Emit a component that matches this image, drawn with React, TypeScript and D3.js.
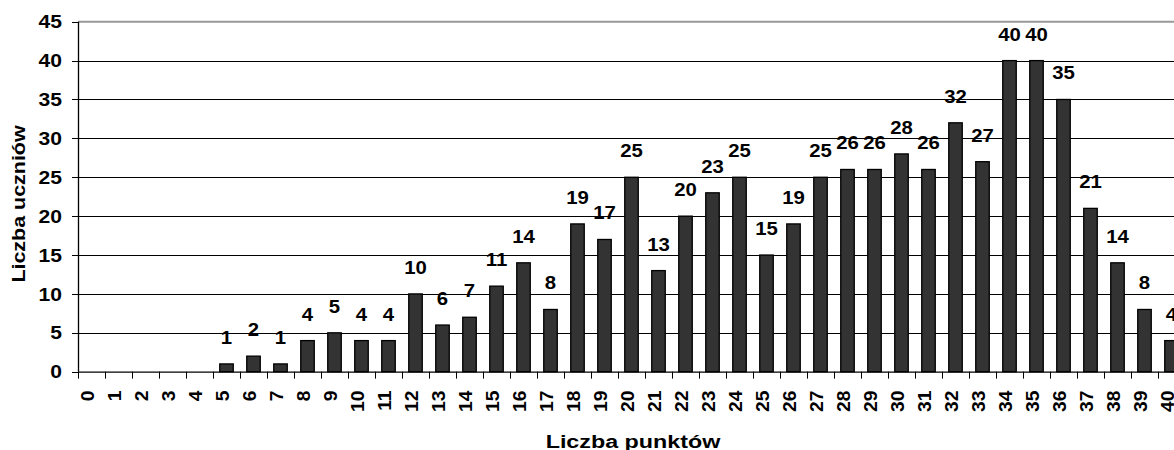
import React from "react";
import * as d3 from "d3";

const categories: string[] = Array.from({ length: 41 }, (_, i) => String(i));
const values: number[] = [
  0, 0, 0, 0, 0, 1, 2, 1, 4, 5, 4, 4, 10, 6, 7, 11, 14, 8, 19, 17, 25, 13, 20, 23, 25,
  15, 19, 25, 26, 26, 28, 26, 32, 27, 40, 40, 35, 21, 14, 8, 4,
];
const yTicks: number[] = [0, 5, 10, 15, 20, 25, 30, 35, 40, 45];

const W = 1174;
const H = 450;
const left = 78;
const right = 1185;
const top = 21.7;
const bottom = 371.7;
const font = "'Liberation Sans', Arial, sans-serif";
const FS = 18.5;

export default function App() {
  const x = d3.scaleBand<string>().domain(categories).range([left, right]).paddingInner(0.5).paddingOuter(0.25);
  const xb = d3.scaleBand<string>().domain(categories).range([left, right]);
  const y = d3.scaleLinear().domain([0, 45]).range([bottom, top]);

  return (
    <svg
      width={W}
      height={H}
      style={{ position: "absolute", left: 0, top: 0, overflow: "hidden", background: "#fff" }}
      fontFamily={font}
    >
      <rect width={W} height={H} fill="#fff" />
      {yTicks.filter((t) => t > 0 && t < 45).map((t) => (
        <line key={t} x1={left} x2={W} y1={Math.round(y(t)) + 0.5} y2={Math.round(y(t)) + 0.5} stroke="#000" strokeWidth={1} />
      ))}
      <line x1={left} x2={W} y1={y(45)} y2={y(45)} stroke="#999" strokeWidth={2} />
      {values.map((v, i) =>
        v > 0 ? (
          <rect
            key={i}
            x={x(categories[i])!}
            y={y(v)}
            width={x.bandwidth()}
            height={bottom - y(v)}
            fill="#333"
            stroke="#000"
            strokeWidth={1.3}
          />
        ) : null
      )}
      <line x1={left + 0.5} x2={left + 0.5} y1={top} y2={bottom} stroke="#000" strokeWidth={1.3} />
      <line x1={left} x2={W} y1={bottom + 0.5} y2={bottom + 0.5} stroke="#000" strokeWidth={1.3} />
      {yTicks.map((t) => (
        <g key={t}>
          <line x1={left - 6} x2={left} y1={Math.round(y(t)) + 0.5} y2={Math.round(y(t)) + 0.5} stroke="#000" />
          <text
            transform={`translate(62,${y(t)}) scale(1.14,1)`}
            dy="0.36em"
            textAnchor="end"
            fontSize={FS}
            fontWeight="bold"
          >
            {t}
          </text>
        </g>
      ))}
      {categories.map((c, i) => (
        <line
          key={"tk" + i}
          x1={Math.round(xb(c)!) + 0.5}
          x2={Math.round(xb(c)!) + 0.5}
          y1={bottom}
          y2={bottom + 7}
          stroke="#000"
        />
      ))}
      {categories.map((c) => {
        const cx = xb(c)! + xb.bandwidth() / 2;
        return (
          <text
            key={"xl" + c}
            transform={`translate(${cx + 2.8},390.5) rotate(-90) scale(1.04,1)`}
            textAnchor="end"
            fontSize={FS}
            fontWeight="bold"
          >
            {c}
          </text>
        );
      })}
      {values.map((v, i) =>
        v > 0 ? (
          <text
            key={"dl" + i}
            transform={`translate(${xb(categories[i])! + xb.bandwidth() / 2},${y(v) - 20}) scale(1.1,1)`}
            textAnchor="middle"
            fontSize={FS}
            fontWeight="bold"
          >
            {v}
          </text>
        ) : null
      )}
      <text transform="translate(633,448) scale(1.26,1)" textAnchor="middle" fontSize={FS} fontWeight="bold">
        Liczba punktów
      </text>
      <text transform="translate(25,204) rotate(-90) scale(1.16,1)" textAnchor="middle" fontSize={FS} fontWeight="bold">
        Liczba uczniów
      </text>
    </svg>
  );
}
